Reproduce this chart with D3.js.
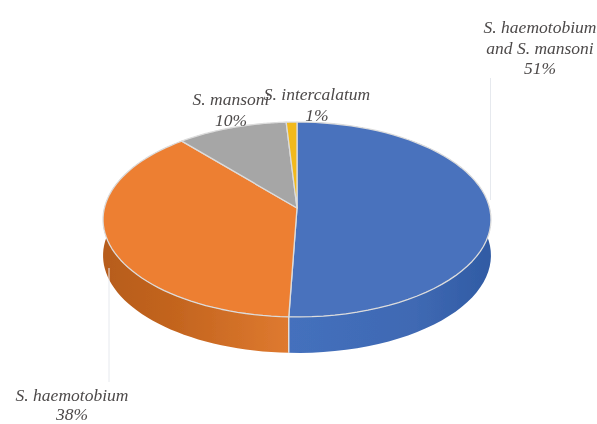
<!DOCTYPE html>
<html><head><meta charset="utf-8">
<script src="https://cdn.jsdelivr.net/npm/d3@7"></script>
<style>html,body{margin:0;padding:0;background:#fff;overflow:hidden}svg{display:block}
text{font-family:"Liberation Serif",serif;font-style:italic;font-size:17.5px;fill:#4d4a4a;text-anchor:middle}</style>
</head><body><div id="c"></div>
<script>
// Data
const categories = ["S. haemotobium and S. mansoni","S. haemotobium","S. mansoni","S. intercalatum"];
const shares = [50.6, 38.1, 10.3, 1];
const colors = ["#4a72bd","#ed7f33","#a6a6a6","#f2b91c"];
const labelLines = [["S. haemotobium","and S. mansoni"],["S. haemotobium"],["S. mansoni"],["S. intercalatum"]];
const labelPos = [[540,33],[72,401],[231,105],[317,100]];

const W=597,H=424, cx=297, cy=208, R=192.6, K=96.1, C=-0.118, depth=36;
const svg=d3.select("#c").append("svg").attr("width",W).attr("height",H);
const defs=svg.append("defs");
defs.append("filter").attr("id","soft").append("feGaussianBlur").attr("stdDeviation",0.45);
const grad=(id,stops)=>{const g=defs.append("linearGradient").attr("id",id).attr("gradientUnits","userSpaceOnUse")
  .attr("x1",100).attr("x2",495).attr("y1",0).attr("y2",0);
  stops.forEach(s=>g.append("stop").attr("offset",s[0]).attr("stop-color",s[1]));};
grad("w0",[[0.48,"#4470bd"],[0.8,"#3f69b3"],[1,"#2f5aa3"]]);
grad("w1",[[0,"#b65c1c"],[0.2,"#c4651f"],[0.48,"#df7a30"]]);
const x=d3.scaleLinear().domain([-1,1]).range([cx-R,cx+R]);
const y=d3.scaleLinear().domain([-1,1]).range([cy-K,cy+K]);
const proj=(a,r=1)=>{const u=r*Math.sin(a),v=-r*Math.cos(a),w=1+C*v;return [x(u/w),y(v/w)];};
const line=d3.line();
const arcPts=(a0,a1)=>d3.range(0,61).map(i=>proj(a0+(a1-a0)*i/60));
const arcs=d3.pie().sort(null).value(d=>d)(shares);
const g=svg.append("g").attr("filter","url(#soft)");

// side wall
g.selectAll("path.wall").data(arcs.slice(0,2)).join("path").attr("class","wall")
 .attr("d",d=>{const p=arcPts(d.startAngle,d.endAngle);
   return line(p.concat(p.slice().reverse().map(q=>[q[0],q[1]+depth])))+"Z";})
 .attr("fill",(d,i)=>`url(#w${i})`);
// seam on the wall
const seam=proj(arcs[0].endAngle);
g.append("line").attr("x1",seam[0]).attr("x2",seam[0]).attr("y1",seam[1]).attr("y2",seam[1]+depth)
 .attr("stroke","#e4e4e4").attr("stroke-width",1.4);
// top face
g.selectAll("path.top").data(arcs).join("path").attr("class","top")
 .attr("d",d=>line([proj(0,0)].concat(arcPts(d.startAngle,d.endAngle)))+"Z")
 .attr("fill",(d,i)=>colors[i]).attr("stroke","#dcdcdc").attr("stroke-width",1.3).attr("stroke-linejoin","round");

// leader lines
const leaders=[[490.5,78,200],[109,268,382]];
svg.selectAll("line.lead").data(leaders).join("line").attr("class","lead")
 .attr("x1",d=>d[0]).attr("x2",d=>d[0]).attr("y1",d=>d[1]).attr("y2",d=>d[2])
 .attr("stroke","#e6e9ee").attr("stroke-width",1);

// labels
const t=svg.append("g").attr("filter","url(#soft)");
categories.forEach((c,i)=>{
  const lines=labelLines[i].concat([d3.format(".0f")(shares[i])+"%"]);
  const el=t.append("text").attr("x",labelPos[i][0]).attr("y",labelPos[i][1]);
  lines.forEach((s,j)=>el.append("tspan").attr("x",labelPos[i][0]).attr("dy",j?(i===1?19:20.5):0).text(s));
});
</script></body></html>
